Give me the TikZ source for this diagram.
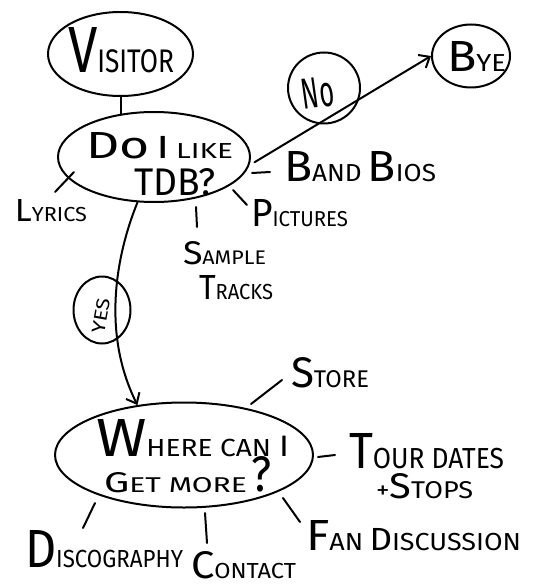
\documentclass[tikz,border=0pt]{standalone}
\usepackage{fontspec}
\setmainfont{Fira Sans}
\usetikzlibrary{arrows.meta,shapes.geometric}
% size helper and hand-lettered caption box (width, cap height, content)
\newcommand\fs[2]{{\fontsize{#1}{#1}\selectfont #2}}
\newcommand\hand[3]{\resizebox{#1pt}{#2pt}{#3}}
\begin{document}
\begin{tikzpicture}[x=1pt,y=-1pt,line width=2pt,line cap=round,line join=round,
  bubble/.style={draw,ellipse,inner sep=0pt},
  words/.style={inner sep=0pt,anchor=base west},
  sketcharrow/.style={-{Straight Barb[length=9pt,width=15pt,line width=2pt]}}]
\useasboundingbox (0,0) rectangle (549,588);

% bubbles
\node[bubble,minimum width=145pt,minimum height=84pt] (visitor) at (120.5,54) {};
\node[bubble,minimum width=192pt,minimum height=90pt] (like) at (154,157) {};
\node[bubble,minimum width=72pt,minimum height=71pt] (no) at (324,88) {};
\node[bubble,minimum width=78pt,minimum height=63pt] (bye) at (471,56) {};
\node[bubble,minimum width=57pt,minimum height=67pt] (yes) at (102,310) {};
\node[bubble,minimum width=258pt,minimum height=105pt] (more) at (184,455) {};

% captions
\node[words] (tvisitor) at (67,73) {\hand{106}{45}{\fs{20}{V}\fs{10}{ISITOR}}};
\node[words] (tlike) at (85,158) {\hand{147}{26}{\fs{20}{Do} \fs{17}{I} \fs{11.5}{LIKE}}};
\node[words] (ttdb) at (133,195) {\hand{82}{27}{\fs{20}{TDB?}}};
\node[words] (tbye) at (446,72) {\hand{59}{30}{\fs{20}{B}\fs{11.3}{YE}}};
\node[words,rotate=8] (tno) at (303,110) {\hand{32}{30}{\fs{20}{No}}};
\node[inner sep=0pt,rotate=80] (tyes) at (101,316) {\hand{36}{13}{\fs{10}{YES}}};
\node[words] (tbios) at (283,182) {\hand{152}{30}{\fs{20}{B}\fs{11.3}{AND} \fs{20}{B}\fs{11.3}{IOS}}};
\node[words] (tlyrics) at (14,221) {\hand{72}{22}{\fs{20}{L}\fs{12.7}{YRICS}}};
\node[words] (tpictures) at (250,226) {\hand{97}{27}{\fs{20}{P}\fs{11}{ICTURES}}};
\node[words] (tsample) at (182,264) {\hand{83}{23}{\fs{20}{S}\fs{12}{AMPLE}}};
\node[words] (ttracks) at (198,299) {\hand{74}{24}{\fs{20}{T}\fs{12.5}{RACKS}}};
\node[words] (twhere) at (95,456) {\hand{193}{37}{\fs{20}{W}\fs{9.2}{HERE CAN} \fs{11}{I}}};
\node[words] (tget) at (103,492) {\hand{143}{20}{\fs{20}{G}\fs{15}{ET MORE}}};
\node[words] (tquery) at (250,491) {\hand{20}{35}{\fs{20}{?}}};
\node[words] (tstore) at (290,387) {\hand{78}{30}{\fs{20}{S}\fs{11.3}{TORE}}};
\node[words] (ttour) at (348,468) {\hand{155}{35}{\fs{20}{T}\fs{11.4}{OUR DATES}}};
\node[words] (tstops) at (375,498) {\hand{97}{25}{\fs{13.6}{+}\fs{20}{S}\fs{13.6}{TOPS}}};
\node[words] (tfan) at (305,550) {\hand{215}{30}{\fs{20}{F}\fs{11.3}{AN} \fs{14.7}{D}\fs{11.3}{ISCUSSION}}};
\node[words] (tdisco) at (24,567) {\hand{158}{37}{\fs{20}{D}\fs{9.2}{ISCOGRAPHY}}};
\node[words] (tcontact) at (190,578) {\hand{105}{27}{\fs{20}{C}\fs{11.3}{ONTACT}}};

% stub ends for the topic lines
\coordinate (lyA) at (74,172);   \coordinate (lyB) at (55,192);
\coordinate (piA) at (233,190);  \coordinate (piB) at (247,205);
\coordinate (saA) at (196,207);  \coordinate (saB) at (197,227);
\coordinate (biA) at (252,173);  \coordinate (biB) at (270,172);
\coordinate (stA) at (251,404);  \coordinate (stB) at (282,380);
\coordinate (toA) at (318,457);  \coordinate (toB) at (335,455);
\coordinate (faA) at (283,498);  \coordinate (faB) at (300,522);
\coordinate (coA) at (205,513);  \coordinate (coB) at (207,543);
\coordinate (diA) at (95,503);   \coordinate (diB) at (83,528);

% connectors
\draw[shorten <=-1pt,shorten >=-3pt] (visitor.south) -- (visitor.south |- like.north);
\draw[sketcharrow,shorten <=6pt] (like.-5) -- (bye.west);
\draw[sketcharrow] (like.250) .. controls (118,250) and (100,330) .. (more.133);
\draw (lyA) -- (lyB);
\draw (piA) -- (piB);
\draw (saA) -- (saB);
\draw (biA) -- (biB);
\draw (stA) -- (stB);
\draw (toA) -- (toB);
\draw (faA) -- (faB);
\draw (coA) -- (coB);
\draw (diA) -- (diB);
\end{tikzpicture}
\end{document}
